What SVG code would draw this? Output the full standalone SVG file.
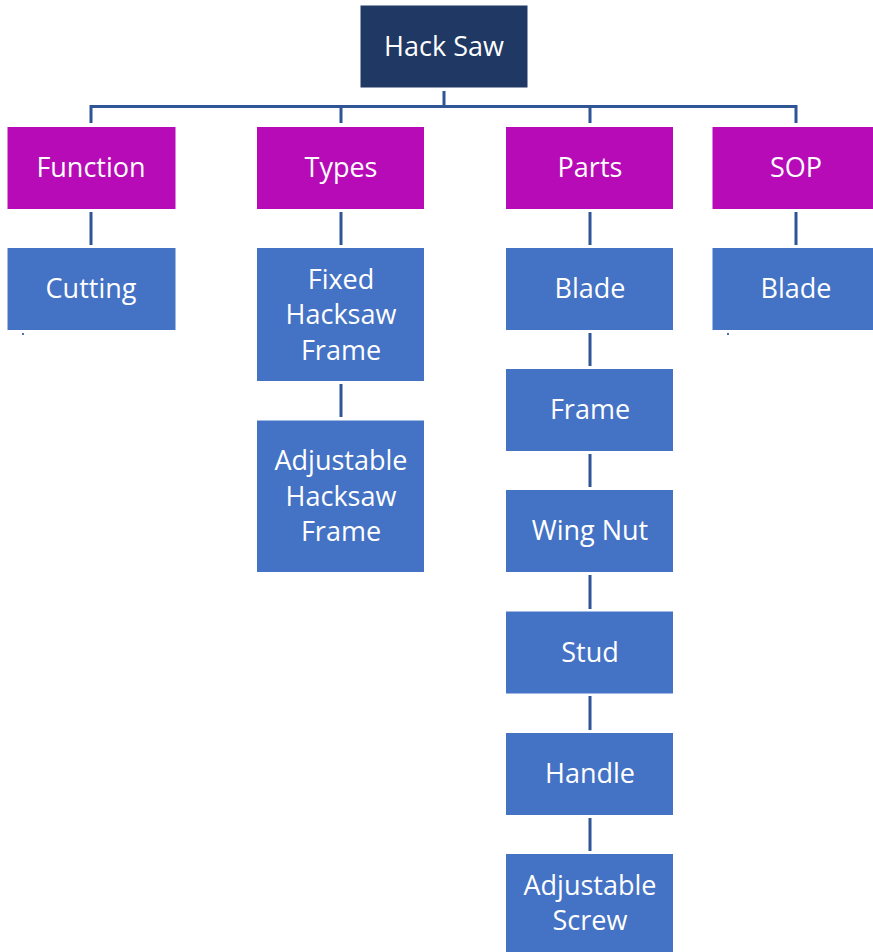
<svg xmlns="http://www.w3.org/2000/svg" width="873" height="952" viewBox="0 0 873 952">
<style>
.root{fill:#203864}
.cat{fill:#B70BB7}
.leaf{fill:#4472C4}
.box{stroke:#ffffff;stroke-width:1}
text{font-family:"Open Sans","Liberation Sans",sans-serif;font-size:27px;fill:#ffffff;text-anchor:middle}
.ln{stroke:#2F5597;stroke-width:3;fill:none}
</style>
<rect width="873" height="952" fill="#ffffff"/>
<g id="connectors">
<path class="ln" d="M444 91V106.5M91 123V106.5H796V123M341 106.5V123M590 106.5V123"/>
<path class="ln" d="M91 212V245M341 212V245M590 212V245M796 212V245"/>
<path class="ln" d="M341 384V417"/>
<path class="ln" d="M590 333V366M590 454V487M590 575V609M590 696V730M590 818V851"/>
<rect x="22" y="333" width="2" height="2" fill="#4472C4"/>
<rect x="727" y="333" width="2" height="2" fill="#4472C4"/>
</g>
<g id="hacksaw"><rect class="root box" x="360" y="5" width="168" height="83"/><text x="444" y="56">Hack Saw</text></g>
<g id="function"><rect class="cat box" x="7" y="126.5" width="169" height="83"/><text x="91" y="177">Function</text></g>
<g id="types"><rect class="cat box" x="256.5" y="126.5" width="168" height="83"/><text x="341" y="177">Types</text></g>
<g id="parts"><rect class="cat box" x="505.5" y="126.5" width="168" height="83"/><text x="590" y="177">Parts</text></g>
<g id="sop"><rect class="cat box" x="712" y="126.5" width="162" height="83"/><text x="796" y="177">SOP</text></g>
<g id="cutting"><rect class="leaf box" x="7" y="247.5" width="169" height="83"/><text x="91" y="298">Cutting</text></g>
<g id="fixed"><rect class="leaf box" x="256.5" y="247.5" width="168" height="134"/><text x="341" y="288.5">Fixed</text><text x="341" y="324">Hacksaw</text><text x="341" y="359.5">Frame</text></g>
<g id="adjustable-frame"><rect class="leaf box" x="256.5" y="420" width="168" height="152.5"/><text x="341" y="470">Adjustable</text><text x="341" y="505.5">Hacksaw</text><text x="341" y="541">Frame</text></g>
<g id="blade"><rect class="leaf box" x="505.5" y="247.5" width="168" height="83"/><text x="590" y="298">Blade</text></g>
<g id="frame"><rect class="leaf box" x="505.5" y="368.5" width="168" height="83"/><text x="590" y="419">Frame</text></g>
<g id="wingnut"><rect class="leaf box" x="505.5" y="489.5" width="168" height="83"/><text x="590" y="540">Wing Nut</text></g>
<g id="stud"><rect class="leaf box" x="505.5" y="611" width="168" height="83"/><text x="590" y="661.5">Stud</text></g>
<g id="handle"><rect class="leaf box" x="505.5" y="732.5" width="168" height="83"/><text x="590" y="783">Handle</text></g>
<g id="adjustable-screw"><rect class="leaf box" x="505.5" y="853.5" width="168" height="110"/><text x="590" y="894.5">Adjustable</text><text x="590" y="930">Screw</text></g>
<g id="sop-blade"><rect class="leaf box" x="712" y="247.5" width="162" height="83"/><text x="796" y="298">Blade</text></g>
</svg>
